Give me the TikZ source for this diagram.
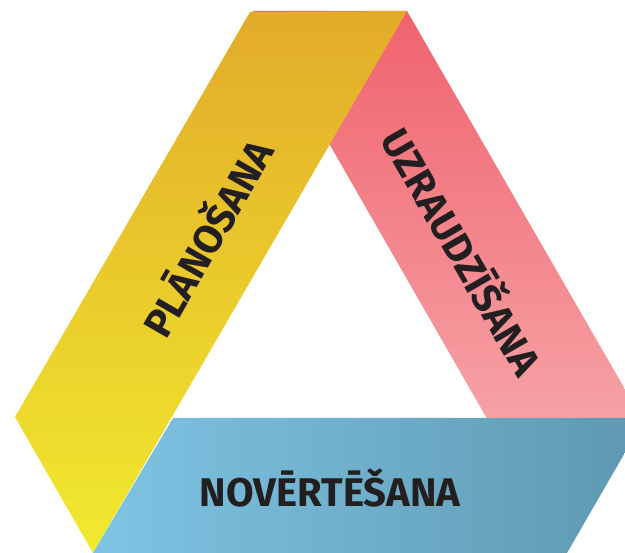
\documentclass[tikz,border=0pt]{standalone}
\usepackage{fontspec}
\setmainfont{Fira Sans}
\definecolor{pinkTop}{HTML}{F0636E}
\definecolor{pinkBot}{HTML}{F6A6A9}
\definecolor{yelTop}{HTML}{E2AB2A}
\definecolor{yelBot}{HTML}{F1EA2E}
\definecolor{bluL}{HTML}{7EC4E4}
\definecolor{bluR}{HTML}{5E98B0}
\definecolor{ink}{HTML}{231F20}
\begin{document}
\begin{tikzpicture}[x=1pt,y=-1pt,
  lbl/.style={text=ink, inner sep=0pt, font=\fontsize{40}{48}\selectfont\bfseries}]
\useasboundingbox (0,0) rectangle (625,553);
\clip (0,0) rectangle (625,553);
\shade[top color=pinkTop, bottom color=pinkBot] (253,11) -- (407,11) -- (660,450) -- (505,450) -- cycle;
\shade[top color=yelTop, bottom color=yelBot] (250,12) -- (407,11) -- (93,553) -- (15,417) -- cycle;
\shade[left color=bluL, right color=bluR] (173,418) -- (645,418) -- (567,553) -- (93,553) -- cycle;
\node[lbl, rotate=60] (plan) at (205,237) {PLĀNOŠANA};
\node[lbl, rotate=-60] (uzr) at (465,250) {UZRAUDZĪŠANA};
\node[lbl] (nov) at (330,488) {NOVĒRTĒŠANA};
\end{tikzpicture}
\end{document}
